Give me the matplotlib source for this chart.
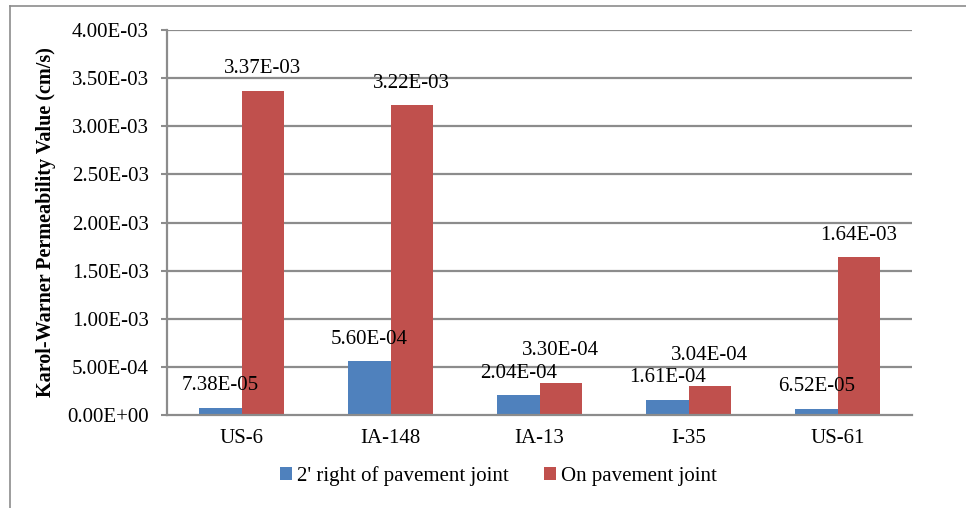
import matplotlib
matplotlib.use("Agg")
import matplotlib.pyplot as plt
from matplotlib.lines import Line2D
import numpy as np

categories = ["US-6", "IA-148", "IA-13", "I-35", "US-61"]
series_names = ["2' right of pavement joint", "On pavement joint"]
right_of_joint = [7.38e-05, 5.60e-04, 2.04e-04, 1.61e-04, 6.52e-05]
on_joint = [3.37e-03, 3.22e-03, 3.30e-04, 3.04e-04, 1.64e-03]
label_right = ["7.38E-05", "5.60E-04", "2.04E-04", "1.61E-04", "6.52E-05"]
label_on = ["3.37E-03", "3.22E-03", "3.30E-04", "3.04E-04", "1.64E-03"]
yticks = [0, 0.5e-3, 1.0e-3, 1.5e-3, 2.0e-3, 2.5e-3, 3.0e-3, 3.5e-3, 4.0e-3]
ytick_labels = ["0.00E+00", "5.00E-04", "1.00E-03", "1.50E-03", "2.00E-03",
                "2.50E-03", "3.00E-03", "3.50E-03", "4.00E-03"]

plt.rcParams['font.family'] = ['Liberation Serif', 'DejaVu Serif']

fig = plt.figure(figsize=(9.66, 5.08), dpi=100)
ax = fig.add_axes([167/966, 1-415/508, 745/966, 385/508])

blue = '#4F81BD'
red = '#C0504D'
grid_c = '#8C8C8C'
fs = 15

x = np.arange(len(categories))
w = 0.285
b1 = ax.bar(x - w/2, right_of_joint, w, color=blue, label=series_names[0], zorder=3)
b2 = ax.bar(x + w/2, on_joint, w, color=red, label=series_names[1], zorder=3)

ax.set_xlim(-0.5, len(categories) - 0.5)
ax.set_ylim(0, 4.0e-3)
ax.set_yticks(yticks)
ax.set_yticklabels(ytick_labels, fontsize=fs)
ax.set_xticks(x)
ax.set_xticklabels(categories, fontsize=fs)
ax.tick_params(axis='x', length=0, pad=10)
ax.tick_params(axis='y', length=4, color=grid_c, width=1.5, pad=9)

for yv in yticks[1:]:
    ax.axhline(yv, color=grid_c, lw=1.6, zorder=1)

for s in ['top', 'right']:
    ax.spines[s].set_visible(False)
ax.spines['left'].set_color(grid_c)
ax.spines['left'].set_linewidth(1.6)
ax.spines['bottom'].set_color(grid_c)
ax.spines['bottom'].set_linewidth(1.6)
ax.spines['bottom'].set_zorder(4)

ax.set_ylabel("Karol-Warner Permeability Value (cm/s)", fontsize=14.5, fontweight='bold', labelpad=8)

# data labels (extra vertical offsets in points to avoid overlap, as in the original)
extra_right = [0, 0, 0, 0, 0]
extra_on = [0, 0, 8, 6, 0]
for i in range(len(categories)):
    ax.annotate(label_right[i], (x[i] - w/2, right_of_joint[i]), xytext=(0, 9 + extra_right[i]),
                textcoords='offset points', ha='center', va='bottom', fontsize=fs, zorder=5)
    ax.annotate(label_on[i], (x[i] + w/2, on_joint[i]), xytext=(0, 9 + extra_on[i]),
                textcoords='offset points', ha='center', va='bottom', fontsize=fs, zorder=5)

leg = fig.legend(handles=[b1, b2], loc='center', bbox_to_anchor=(0.516, 1-476/508), ncol=2,
                 frameon=False, fontsize=fs, handlelength=0.55, handleheight=0.55,
                 handletextpad=0.25, columnspacing=1.7)

# chart frame (partially visible)
fig.add_artist(Line2D([10/966, 1.0], [1-6/508, 1-6/508], transform=fig.transFigure, color='#8C8C8C', lw=1.2))
fig.add_artist(Line2D([10/966, 10/966], [0.0, 1-6/508], transform=fig.transFigure, color='#8C8C8C', lw=1.2))

fig.savefig("out.png", dpi=100)
